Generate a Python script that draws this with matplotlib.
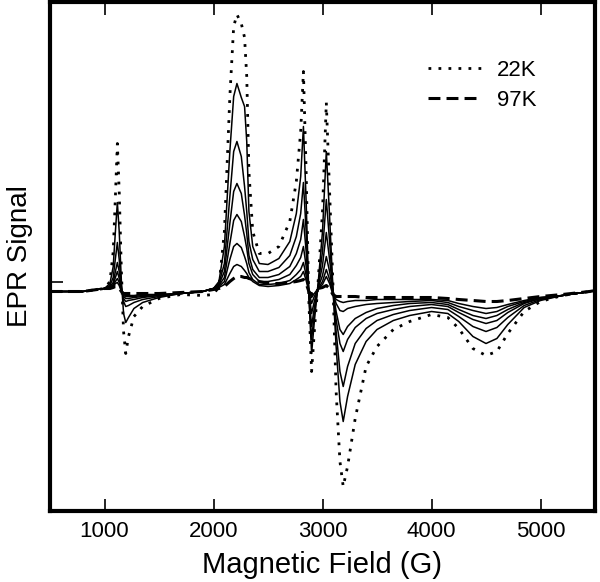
import matplotlib
matplotlib.use("Agg")
import matplotlib.pyplot as plt

plt.rcParams["font.family"] = ["Liberation Sans", "DejaVu Sans"]

# magnetic field grid (G) and EPR signal (arb. units)
field = [500, 800, 1000, 1050, 1080, 1100, 1118, 1135, 1155, 1175, 1195, 1220, 1270,
         1350, 1500, 1700, 1900, 2000, 2050, 2100, 2150, 2185, 2215, 2255, 2285, 2305,
         2325, 2360, 2420, 2500, 2600, 2700, 2760, 2800, 2825, 2850, 2875, 2900, 2925,
         2960, 3000, 3035, 3065, 3095, 3125, 3160, 3190, 3230, 3300, 3400, 3500, 3650,
         3800, 4000, 4150, 4250, 4380, 4500, 4600, 4700, 4850, 5000, 5200, 5450, 5500]

sig_22k = [0, 0, 3, 10, 40, 95, 148, 100, 20, -40, -62, -45, -25,
           -15, -7, -3, -4, -3, 5, 60, 195, 265, 277, 268, 254, 215,
           120, 60, 38, 38, 45, 70, 110, 160, 220, 120, -10, -80, -40,
           10, 80, 189, 100, 10, -100, -170, -195, -175, -127, -75, -55, -38,
           -30, -23, -26, -37, -57, -64, -60, -42, -20, -10, -4, 0, 1]

sig_t1 = [0, 0, 3, 8, 25, 60, 89, 60, 10, -22, -31, -26, -17,
          -11, -6, -2, 0, 3, 10, 45, 140, 195, 208, 194, 185, 150,
          80, 45, 28, 27, 33, 50, 78, 115, 165, 90, -5, -62, -30,
          8, 60, 140, 75, 5, -55, -110, -130, -105, -73, -50, -38, -29,
          -24, -20, -22, -30, -45, -52, -47, -33, -16, -9, -4, 0, 1]

sig_t2 = [0, 0, 3, 6, 14, 33, 49, 32, 5, -10, -15, -14, -11,
          -8, -5, -2, 0, 3, 8, 28, 95, 140, 150, 135, 105, 80,
          50, 32, 20, 20, 24, 36, 55, 78, 109, 60, -3, -48, -22,
          6, 40, 92, 50, 3, -40, -80, -95, -75, -52, -37, -29, -23,
          -19, -16, -18, -25, -35, -40, -36, -26, -14, -8, -4, 0, 1]

sig_t3 = [0, 0, 3, 5, 9, 20, 29, 20, 3, -7, -10, -9, -8,
          -6, -4, -2, 0, 3, 7, 20, 68, 100, 108, 98, 76, 58,
          36, 22, 14, 14, 17, 25, 38, 52, 72, 40, -2, -35, -16,
          5, 26, 59, 32, 2, -28, -52, -60, -48, -36, -27, -22, -18,
          -15, -13, -15, -21, -28, -32, -29, -21, -12, -7, -4, 0, 1]

sig_t4 = [0, 0, 3, 4, 7, 14, 20, 13, 2, -5, -7, -7, -6,
          -5, -4, -2, 0, 3, 6, 14, 48, 71, 77, 70, 55, 43,
          28, 17, 10, 10, 12, 17, 26, 34, 45, 25, -1, -22, -10,
          4, 16, 35, 20, 0, -20, -38, -43, -35, -27, -21, -17, -14,
          -12, -11, -13, -18, -24, -27, -24, -18, -11, -7, -4, 0, 1]

sig_t5 = [0, 0, 3, 4, 6, 10, 13, 9, 1, -4, -5, -5, -5,
          -4, -3, -2, 0, 3, 5, 10, 32, 45, 48, 44, 35, 28,
          19, 12, 7, 7, 8, 11, 17, 22, 29, 16, 0, -12, -5,
          3, 10, 22, 12, -2, -12, -19, -20, -17, -15, -13, -12, -11,
          -10, -9, -11, -15, -19, -22, -20, -15, -10, -6, -4, 0, 1]

sig_t6 = [0, 0, 3, 3, 5, 8, 9, 6, 0, -3, -4, -4, -4,
          -3, -3, -2, 0, 3, 4, 7, 18, 25, 27, 25, 21, 18,
          14, 10, 6, 5, 6, 8, 12, 15, 20, 11, 0, -6, -2,
          3, 7, 15, 8, -3, -8, -10, -11, -10, -9, -9, -8, -8,
          -8, -8, -9, -12, -15, -17, -16, -13, -9, -6, -4, 0, 1]

sig_97k = [0, 0, 3, 3, 4, 5, 5, 3, 0, -2, -2, -2, -2,
           -2, -2, -1, 0, 2, 3, 5, 10, 13, 15, 15, 14, 14,
           13, 12, 10, 8, 8, 9, 10, 11, 12, 8, 0, -3, 0,
           3, 4, 6, 3, -3, -5, -5, -5, -5, -5, -6, -6, -6,
           -6, -6, -7, -8, -9, -10, -10, -9, -7, -5, -3, 0, 1]

intermediate = [sig_t1, sig_t2, sig_t3, sig_t4, sig_t5, sig_t6]

fig = plt.figure(figsize=(6, 5.82), dpi=100)
ax = fig.add_axes([50 / 600, 1 - 511 / 582, 545 / 600, 509 / 582])

for s in intermediate:
    ax.plot(field, s, color="black", lw=1.1)
ax.plot(field, sig_22k, color="black", lw=2.0, linestyle=(0, (1, 2.6)), label="22K")
ax.plot(field, sig_97k, color="black", lw=2.2, linestyle=(0, (3.9, 2.0)), label="97K")

ax.set_xlim(500, 5500)
ax.set_ylim(-219.5, 289.5)
ax.set_xticks([1000, 2000, 3000, 4000, 5000])
ax.set_yticks([9.5])
ax.set_yticklabels([])
ax.tick_params(axis="x", direction="in", length=9, width=1.2, top=True,
               labelsize=16, pad=7)
ax.tick_params(axis="y", direction="in", length=9, width=1.2)
for sp in ax.spines.values():
    sp.set_linewidth(3)

ax.set_xlabel("Magnetic Field (G)", fontsize=21, labelpad=7)
ax.set_ylabel("EPR Signal", fontsize=20, labelpad=9)

ax.legend(loc="upper left", bbox_to_anchor=(428 / 600, 1 - 60 / 582),
          bbox_transform=fig.transFigure, frameon=False, fontsize=16,
          handlelength=2.4, handletextpad=0.7, labelspacing=0.4,
          borderpad=0, borderaxespad=0)

fig.savefig("out.png", dpi=100)
